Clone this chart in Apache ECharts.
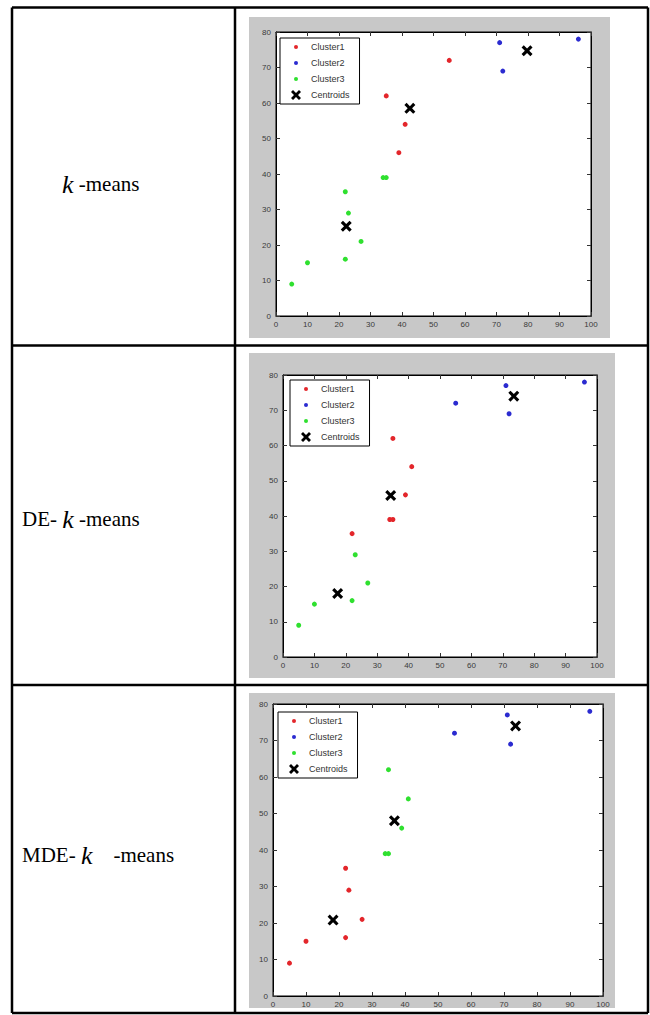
<!DOCTYPE html>
<html>
<head>
<meta charset="utf-8">
<script src="https://cdn.jsdelivr.net/npm/echarts@6/dist/echarts.min.js"></script>
<style>
html,body{margin:0;padding:0;background:#fff;}
#c{width:650px;height:1015px;}
</style>
</head>
<body>
<div id="c"></div>
<script>
// ---- data ----
const legendNames = ['Cluster1', 'Cluster2', 'Cluster3', 'Centroids'];
const xRange = [0, 100, 10];   // min, max, interval
const yRange = [0, 80, 10];

// k-means
const kmCluster1 = [[35, 62], [41, 54], [39, 46], [55, 72]];
const kmCluster2 = [[71, 77], [72, 69], [96, 78]];
const kmCluster3 = [[5, 9], [10, 15], [22, 35], [23, 29], [22, 16], [27, 21], [34, 39], [35, 39]];
const kmCentroids = [[22.3, 25.3], [42.5, 58.5], [79.7, 74.7]];

// DE-k-means
const deCluster1 = [[35, 62], [41, 54], [39, 46], [34, 39], [35, 39], [22, 35]];
const deCluster2 = [[55, 72], [71, 77], [72, 69], [96, 78]];
const deCluster3 = [[5, 9], [10, 15], [23, 29], [27, 21], [22, 16]];
const deCentroids = [[17.4, 18], [34.3, 45.8], [73.5, 74]];

// MDE-k-means
const mdeCluster1 = [[5, 9], [10, 15], [22, 35], [23, 29], [22, 16], [27, 21]];
const mdeCluster2 = [[55, 72], [71, 77], [72, 69], [96, 78]];
const mdeCluster3 = [[35, 62], [41, 54], [39, 46], [34, 39], [35, 39]];
const mdeCentroids = [[18.2, 20.8], [36.8, 48], [73.5, 74]];

// ---- styling / layout ----
const colors = ['#e3262b', '#2b2bd0', '#2fe02f', '#000000'];
const crossPath = 'path://M2,0L5,3L8,0L10,2L7,5L10,8L8,10L5,7L2,10L0,8L3,5L0,2Z';
const dotIcon = 'path://M0,0L0,0M10,10L10,10M3,5A2,2 0 1,0 7,5A2,2 0 1,0 3,5Z';

const panels = [
  { grid: { left: 276, top: 32, width: 315, height: 284 }, legend: { left: 280, top: 38 },
    bg: [249, 17, 361, 321], data: [kmCluster1, kmCluster2, kmCluster3, kmCentroids] },
  { grid: { left: 283, top: 375, width: 314, height: 282 }, legend: { left: 290, top: 380 },
    bg: [249, 353, 366, 325], data: [deCluster1, deCluster2, deCluster3, deCentroids] },
  { grid: { left: 273, top: 704, width: 330, height: 292 }, legend: { left: 278, top: 712 },
    bg: [249, 693, 366, 315], data: [mdeCluster1, mdeCluster2, mdeCluster3, mdeCentroids] }
];

const labelFont = { fontSize: 8, color: '#3a3a3a', fontFamily: 'Liberation Sans' };
const grids = [], xAxes = [], yAxes = [], series = [], legends = [], graphics = [];

panels.forEach((p, i) => {
  grids.push(Object.assign({ show: true, backgroundColor: '#fff', borderColor: '#000', borderWidth: 1, containLabel: false }, p.grid));
  const tick = { show: true, inside: true, length: 4, lineStyle: { color: '#333', width: 1 } };
  const line = { show: true, onZero: false, lineStyle: { color: '#000', width: 1 } };
  xAxes.push({ gridIndex: i, type: 'value', position: 'bottom', min: xRange[0], max: xRange[1], interval: xRange[2],
    axisLine: line, axisTick: tick, splitLine: { show: false },
    axisLabel: Object.assign({ margin: 4 }, labelFont) });
  xAxes.push({ gridIndex: i, type: 'value', position: 'top', min: xRange[0], max: xRange[1], interval: xRange[2],
    axisLine: line, axisTick: tick, splitLine: { show: false }, axisLabel: { show: false } });
  yAxes.push({ gridIndex: i, type: 'value', position: 'left', min: yRange[0], max: yRange[1], interval: yRange[2],
    axisLine: line, axisTick: tick, splitLine: { show: false },
    axisLabel: Object.assign({ margin: 5 }, labelFont) });
  yAxes.push({ gridIndex: i, type: 'value', position: 'right', min: yRange[0], max: yRange[1], interval: yRange[2],
    axisLine: line, axisTick: tick, splitLine: { show: false }, axisLabel: { show: false } });

  p.data.forEach((d, k) => {
    const isC = k === 3;
    series.push({
      type: 'scatter', name: legendNames[k], xAxisIndex: 2 * i, yAxisIndex: 2 * i,
      data: d, symbol: isC ? crossPath : 'circle', symbolSize: isC ? 11 : 5,
      itemStyle: { color: colors[k], opacity: 1 }, z: isC ? 5 : 3,
      emphasis: { disabled: true }, silent: true
    });
  });

  const legendText = { fontSize: 9, color: '#333', fontFamily: 'Liberation Sans' };
  legends.push({
    left: p.legend.left, top: p.legend.top, orient: 'vertical', selectedMode: false,
    backgroundColor: '#fff', borderColor: '#000', borderWidth: 1, borderRadius: 0,
    padding: [4, 10, 4, 11], itemWidth: 20, itemHeight: 10, itemGap: 6,
    textStyle: legendText,
    data: legendNames.map((n, k) => ({ name: n, icon: k === 3 ? crossPath : dotIcon,
      itemStyle: { color: colors[k] }, textStyle: legendText }))
  });

  graphics.push({ type: 'rect', z: -10, silent: true,
    shape: { x: p.bg[0], y: p.bg[1], width: p.bg[2], height: p.bg[3] }, style: { fill: '#c8c8c8' } });
});

// table lines
const tl = { stroke: '#000', lineWidth: 2.5 };
[[12, 7.5, 648, 7.5], [12, 7.5, 12, 1013], [648, 7.5, 648, 1013], [235, 7.5, 235, 1013],
 [12, 345.5, 648, 345.5], [12, 685, 648, 685], [12, 1013, 648, 1013]].forEach(s => {
  graphics.push({ type: 'line', z: 20, silent: true, shape: { x1: s[0], y1: s[1], x2: s[2], y2: s[3] }, style: tl });
});

// row labels
const rowLabels = [
  { text: '{i|k} -means', x: 62, y: 184 },
  { text: 'DE- {i|k} -means', x: 22, y: 519 },
  { text: 'MDE- {i|k}    -means', x: 22, y: 855 }
];
rowLabels.forEach(r => {
  graphics.push({ type: 'text', z: 20, silent: true, x: r.x, y: r.y,
    style: { text: r.text, fill: '#000', font: '21px "Liberation Serif"', verticalAlign: 'middle', align: 'left',
      rich: { i: { fontStyle: 'italic', fontSize: 26, fontFamily: 'Liberation Serif', fill: '#000' } } } });
});

const chart = echarts.init(document.getElementById('c'), null, { renderer: 'svg' });
chart.setOption({
  animation: false,
  backgroundColor: '#fff',
  grid: grids, xAxis: xAxes, yAxis: yAxes, series: series, legend: legends, graphic: graphics
});
</script>
</body>
</html>
